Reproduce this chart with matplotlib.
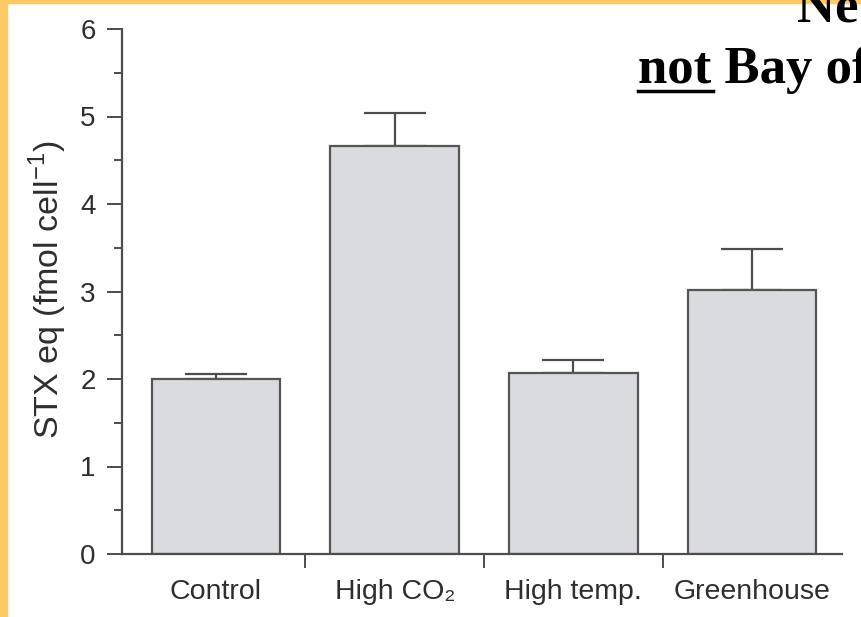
import matplotlib
matplotlib.use("Agg")
import matplotlib.pyplot as plt
from matplotlib.patches import Rectangle
from matplotlib.lines import Line2D

# STX content per treatment (mean, upper error)
groups = ["Control", "High CO\u2082", "High temp.", "Greenhouse"]
stx = [2.0, 4.66, 2.07, 3.02]
stx_err = [0.06, 0.38, 0.15, 0.47]

plt.rcParams["font.family"] = ["Liberation Sans", "DejaVu Sans"]
plt.rcParams["mathtext.fontset"] = "custom"
plt.rcParams["mathtext.rm"] = "Liberation Sans"

axcol = "#4d4d4d"
fig = plt.figure(figsize=(8.62, 6.17), dpi=100)

# slide frame
fig.patches.append(Rectangle((0, 0), 7 / 862, 1, transform=fig.transFigure,
                             color="#ffc966", zorder=0))
fig.patches.append(Rectangle((0, 1 - 3 / 617), 1, 3 / 617, transform=fig.transFigure,
                             color="#ffc966", zorder=0))

ax = fig.add_axes([122 / 862, 1 - 554 / 617, 720 / 862, 525 / 617])
x = list(range(len(groups)))
ax.bar(x, stx, width=0.72, color="#d9dbde", edgecolor="#555555", linewidth=1.6, zorder=2)
ax.errorbar(x, stx, yerr=[[0] * len(stx), stx_err], fmt="none", ecolor=axcol,
            elinewidth=1.6, capsize=22, capthick=1.6, zorder=1)

ax.set_xlim(-0.526, 3.503)
ax.set_ylim(0, 6)
for s in ["top", "right"]:
    ax.spines[s].set_visible(False)
for s in ["left", "bottom"]:
    ax.spines[s].set_color(axcol)
    ax.spines[s].set_linewidth(1.6)

ax.set_yticks(range(7))
ax.set_yticks([i + 0.5 for i in range(6)], minor=True)
ax.tick_params(axis="y", which="major", length=11, width=1.4, color=axcol,
               labelsize=20, labelcolor="#2e2e2e", pad=8)
ax.tick_params(axis="y", which="minor", length=5.5, width=1.4, color=axcol)

ax.set_xticks(x)
ax.set_xticklabels(groups)
ax.set_xticks([0.5, 1.5, 2.5], minor=True)
ax.tick_params(axis="x", which="major", length=0, labelsize=20.5,
               labelcolor="#2e2e2e", pad=18)
ax.tick_params(axis="x", which="minor", length=10, width=1.4, color=axcol)

fig.text(48 / 862, 1 - 290 / 617, "STX eq (fmol cell$^{-1}$)", rotation=90,
         ha="center", va="center", fontsize=24.5, color="#2e2e2e")

# slide heading (runs off the right edge)
fig.text(797 / 862, 1 - 22 / 617, "Ne", fontsize=38, fontweight="bold",
         family="Liberation Serif", ha="left", va="baseline", zorder=5)
fig.text(638 / 862, 1 - 83 / 617, "not Bay of", fontsize=38, fontweight="bold",
         family="Liberation Serif", ha="left", va="baseline", zorder=5)
fig.lines.append(Line2D([638 / 862, 713 / 862], [1 - 91 / 617, 1 - 91 / 617],
                        transform=fig.transFigure, color="black", linewidth=2.5))

fig.savefig("out.png", dpi=100)
